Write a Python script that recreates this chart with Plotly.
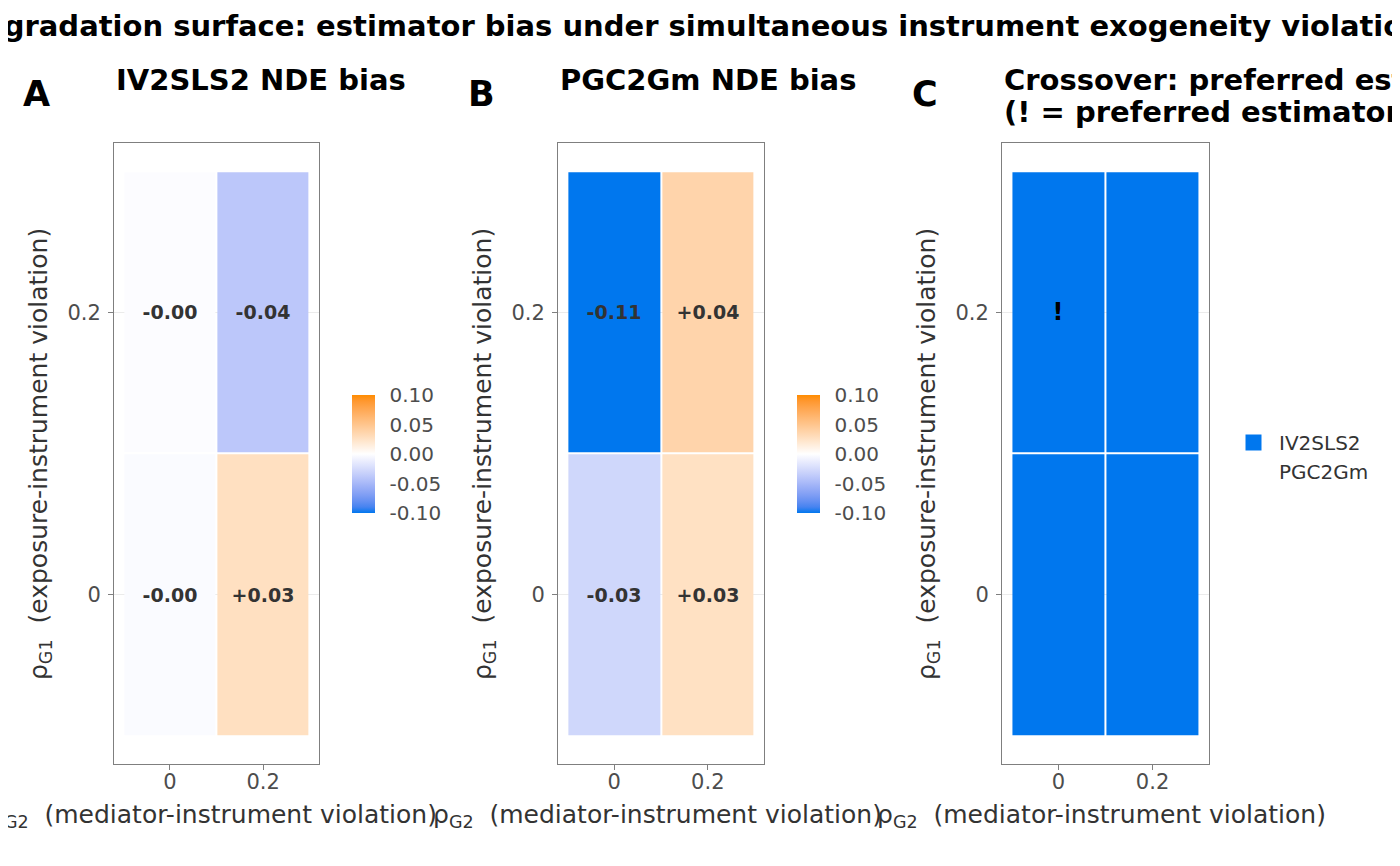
import plotly.graph_objects as go

# grid of violation strengths
rho_g2 = [0, 0.2]  # x: mediator-instrument violation
rho_g1 = [0, 0.2]  # y: exposure-instrument violation

# NDE bias, rows = rho_g1 (0, 0.2), cols = rho_g2 (0, 0.2)
bias_iv2sls2 = [[-0.003, 0.027],
                [-0.002, -0.039]]
bias_pgc2gm = [[-0.028, 0.026],
               [-0.112, 0.037]]

# preferred estimator per cell and crossover flag
estimators = ["IV2SLS2", "PGC2Gm"]
preferred = [["IV2SLS2", "IV2SLS2"],
             ["IV2SLS2", "IV2SLS2"]]
crossover = [["", ""],
             ["!", ""]]

cbar_ticks = [-0.10, -0.05, 0.00, 0.05, 0.10]

TITLE = "Degradation surface: estimator bias under simultaneous instrument exogeneity violations"
PANEL_TITLES = [["IV2SLS2 NDE bias"], ["PGC2Gm NDE bias"],
                ["Crossover: preferred estimator by cell",
                 "(! = preferred estimator changes)"]]
TAGS = ["A", "B", "C"]

LOW, MID, HIGH = "#0077EE", "#FFFFFF", "#FF8C00"
FONT = "DejaVu Sans"
W, H = 1400, 866
OFF = 8  # page body margin


def px(x):
    return (x - OFF) / W


def py(y):
    return 1 - (y - OFF) / H


# --- Lab interpolation, like scale_fill_gradient2 ---
def _hex2rgb(h):
    h = h.lstrip("#")
    return [int(h[i:i + 2], 16) / 255 for i in (0, 2, 4)]


def _rgb2lab(rgb):
    lin = [c / 12.92 if c <= 0.04045 else ((c + 0.055) / 1.055) ** 2.4 for c in rgb]
    x = (0.4124 * lin[0] + 0.3576 * lin[1] + 0.1805 * lin[2]) / 0.95047
    y = (0.2126 * lin[0] + 0.7152 * lin[1] + 0.0722 * lin[2])
    z = (0.0193 * lin[0] + 0.1192 * lin[1] + 0.9505 * lin[2]) / 1.08883
    f = lambda t: t ** (1 / 3) if t > 0.008856 else 7.787 * t + 16 / 116
    fx, fy, fz = f(x), f(y), f(z)
    return [116 * fy - 16, 500 * (fx - fy), 200 * (fy - fz)]


def _lab2rgb(lab):
    L, a, b = lab
    fy = (L + 16) / 116
    fx = fy + a / 500
    fz = fy - b / 200
    finv = lambda t: t ** 3 if t ** 3 > 0.008856 else (t - 16 / 116) / 7.787
    x, y, z = finv(fx) * 0.95047, finv(fy), finv(fz) * 1.08883
    r = 3.2406 * x - 1.5372 * y - 0.4986 * z
    g = -0.9689 * x + 1.8758 * y + 0.0415 * z
    bb = 0.0557 * x - 0.2040 * y + 1.0570 * z
    out = []
    for c in (r, g, bb):
        c = max(0, c)
        c = 12.92 * c if c <= 0.0031308 else 1.055 * c ** (1 / 2.4) - 0.055
        out.append(int(round(max(0, min(1, c)) * 255)))
    return "rgb({},{},{})".format(*out)


def diverging_scale(n=10):
    lo, mi, hi = (_rgb2lab(_hex2rgb(c)) for c in (LOW, MID, HIGH))
    stops = []
    for i in range(n + 1):
        t = i / n
        stops.append([t / 2, _lab2rgb([lo[k] + (mi[k] - lo[k]) * t for k in range(3)])])
    for i in range(1, n + 1):
        t = i / n
        stops.append([0.5 + t / 2, _lab2rgb([mi[k] + (hi[k] - mi[k]) * t for k in range(3)])])
    return stops


def fmt(v):
    s = "{:+.2f}".format(v)
    return "-0.00" if s == "+0.00" and v < 0 else s


colorscale = diverging_scale()

# panel pixel boxes (left, right), shared top/bottom
panels_x = [(114, 319), (558, 764), (1002, 1209)]
top, bottom = 143, 764
cbar_left = [352, 797]

fig = go.Figure()

for idx, bias in enumerate([bias_iv2sls2, bias_pgc2gm]):
    ax = "" if idx == 0 else str(idx + 1)
    fig.add_trace(go.Heatmap(
        x=rho_g2, y=rho_g1, z=bias,
        zmin=-0.1, zmax=0.1, colorscale=colorscale,
        xgap=2, ygap=2,
        text=[[fmt(v) for v in row] for row in bias],
        texttemplate="%{text}",
        textfont=dict(family=FONT, size=19, color="#333333", weight="bold"),
        hoverinfo="skip",
        xaxis="x" + ax, yaxis="y" + ax,
        colorbar=dict(
            x=px(cbar_left[idx] - 10), xanchor="left",
            y=py(454), yanchor="middle",
            len=138, lenmode="pixels", thickness=23,
            outlinewidth=0,
            tickvals=cbar_ticks,
            ticktext=["{:.2f}".format(t) for t in cbar_ticks],
            ticks="outside", ticklen=11, tickcolor="white",
            tickfont=dict(family=FONT, size=20, color="#4d4d4d"),
        ),
    ))

# panel C: preferred estimator as discrete colour
code = [[estimators.index(p) for p in row] for row in preferred]
fig.add_trace(go.Heatmap(
    x=rho_g2, y=rho_g1, z=code,
    zmin=0, zmax=1,
    colorscale=[[0, LOW], [0.5, LOW], [0.5, HIGH], [1, HIGH]],
    showscale=False, xgap=2, ygap=2,
    text=crossover, texttemplate="%{text}",
    textfont=dict(family=FONT, size=24, color="black", weight="bold"),
    hoverinfo="skip", xaxis="x3", yaxis="y3",
))

# legend entries for panel C
for name in estimators:
    used = any(name in row for row in preferred)
    fig.add_trace(go.Scatter(
        x=[None], y=[None], mode="markers", name=name,
        marker=dict(symbol="square", size=16,
                    color=LOW if used else "rgba(0,0,0,0)"),
        xaxis="x3", yaxis="y3",
    ))

axis_common = dict(
    range=[-0.12, 0.32], tickvals=[0, 0.2], ticktext=["0", "0.2"],
    showline=True, mirror=True, linecolor="#7f7f7f", linewidth=1,
    ticks="outside", ticklen=5, tickcolor="#7f7f7f",
    tickfont=dict(family=FONT, size=21, color="#4d4d4d"),
    zeroline=False, fixedrange=True,
)

annotations = []
for i, (xl, xr) in enumerate(panels_x):
    ax = "" if i == 0 else str(i + 1)
    fig.update_layout(**{
        "xaxis" + ax: dict(axis_common, domain=[px(xl), px(xr)], showgrid=False,
                           anchor="y" + ax, ticklabelstandoff=-6),
        "yaxis" + ax: dict(axis_common, domain=[py(bottom), py(top)],
                           showgrid=True, gridcolor="#ebebeb", gridwidth=1,
                           anchor="x" + ax, ticklabelstandoff=3),
    })
    cx = (xl + xr) / 2
    # panel title, one annotation per line
    for j, line in enumerate(PANEL_TITLES[i]):
        annotations.append(dict(
            text="<b>" + line + "</b>", x=px(xl), y=py(80 + 32 * j),
            xref="paper", yref="paper", xanchor="left", yanchor="middle",
            showarrow=False,
            font=dict(family=FONT, size=29, color="#000000"),
        ))
    # tag
    annotations.append(dict(
        text="<b>" + TAGS[i] + "</b>", x=px(xl - 77), y=py(94),
        xref="paper", yref="paper", xanchor="center", yanchor="middle",
        showarrow=False, font=dict(family=FONT, size=35, color="#000000"),
    ))
    # y title
    annotations.append(dict(
        text="ρ<sub>G1</sub>  (exposure-instrument violation)",
        x=px(xl - 74), y=py(454), textangle=-90,
        xref="paper", yref="paper", xanchor="center", yanchor="middle",
        showarrow=False, font=dict(family=FONT, size=25, color="#333333"),
    ))
    # x title
    annotations.append(dict(
        text="ρ<sub>G2</sub>  (mediator-instrument violation)",
        x=px(cx - 4), y=py(816),
        xref="paper", yref="paper", xanchor="center", yanchor="middle",
        showarrow=False, font=dict(family=FONT, size=25, color="#333333"),
    ))

annotations.append(dict(
    text="<b>" + TITLE + "</b>", x=px(700), y=py(26),
    xref="paper", yref="paper", xanchor="center", yanchor="middle",
    showarrow=False, font=dict(family=FONT, size=29, color="#000000"),
))

fig.update_layout(
    width=W, height=H,
    margin=dict(l=0, r=0, t=0, b=0),
    paper_bgcolor="white", plot_bgcolor="white",
    annotations=annotations,
    showlegend=True,
    legend=dict(
        x=px(1228), y=py(423), xanchor="left", yanchor="top",
        font=dict(family=FONT, size=20, color="#333333"),
        bgcolor="rgba(0,0,0,0)", tracegroupgap=0, itemwidth=41,
    ),
)

fig.write_html("out.html")
